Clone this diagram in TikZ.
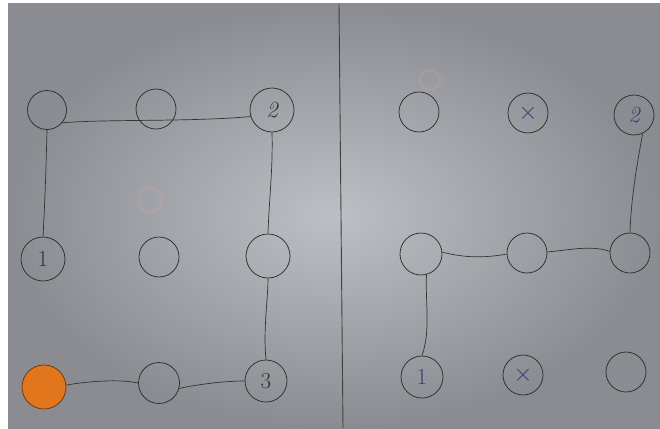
\documentclass[tikz,border=0pt]{standalone}
\usepackage{tikz}
\begin{document}
\begin{tikzpicture}[x=1pt,y=-1pt,
  pencil/.style={draw=black!82, line width=0.75pt},
  dot/.style={circle, pencil, inner sep=0pt, minimum size=40pt,
              font=\fontsize{23}{23}\selectfont, text=black!80},
  bluedot/.style={dot, text={rgb,255:red,60;green,62;blue,120}},
  firstdot/.style={dot, fill={rgb,255:red,226;green,118;blue,28},
                   draw={rgb,255:red,110;green,55;blue,18}},
  link/.style={draw=black!80, line width=0.7pt},
  smudge/.style={circle, draw={rgb,255:red,225;green,170;blue,160}, line width=3pt,
                 draw opacity=0.18, minimum size=24pt, inner sep=0pt}]
  % sheet and margins
  \useasboundingbox (0,0) rectangle (660,428);
  \fill[white] (0,0) rectangle (660,428);
  \shade[inner color={rgb,255:red,188;green,191;blue,195},
         outer color={rgb,255:red,138;green,140;blue,146}]
    (8,4) rectangle (660,428);
  % dividing line between the two grids
  \coordinate (topcut) at (339,4);
  \coordinate (botcut) at (343,428);
  \draw[black!75, line width=0.9pt] (topcut) -- (botcut);
  % faint erased marks
  \node[smudge] (erA) at (150,200) {};
  \node[smudge, minimum size=20pt] (erB) at (430,80) {};

  % left grid
  \node[dot, minimum size=39pt] (L11) at (47,110) {};
  \node[dot, minimum size=40pt] (L12) at (156,109) {};
  \node[dot, minimum size=44pt] (L13) at (272,110) {\itshape 2};
  \node[dot, minimum size=44pt] (L21) at (43,259) {1};
  \node[dot, minimum size=40pt] (L22) at (159,257) {};
  \node[dot, minimum size=44pt] (L23) at (268,256) {};
  \node[firstdot, minimum size=44pt] (L31) at (44,387) {};
  \node[dot, minimum size=41pt] (L32) at (159,383) {};
  \node[dot, minimum size=42pt] (L33) at (266,381) {3};

  \draw[link] (L11.south) .. controls (46,170) and (45,200) .. (L21.north);
  \draw[link] (L11.-40) .. controls (110,119) and (190,122) .. (L13.197);
  \draw[link] (L13.south) .. controls (273,170) and (269,200) .. (L23.north);
  \draw[link] (L23.south) .. controls (268,300) and (263,330) .. (L33.north);
  \draw[link] (L31.5) .. controls (90,381) and (120,379) .. (L32.180);
  \draw[link] (L32.-15) .. controls (200,384) and (225,381) .. (L33.180);

  % right grid
  \node[dot, minimum size=40pt] (R11) at (419,112) {};
  \node[bluedot, minimum size=40pt] (R12) at (528,113) {$\times$};
  \node[bluedot, minimum size=40pt] (R13) at (634,115) {\itshape 2};
  \node[dot, minimum size=42pt] (R21) at (421,254) {};
  \node[dot, minimum size=40pt] (R22) at (527,253) {};
  \node[dot, minimum size=40pt] (R23) at (630,253) {};
  \node[bluedot, minimum size=42pt] (R31) at (422,377) {1};
  \node[bluedot, minimum size=40pt] (R32) at (523,375) {$\times$};
  \node[dot, minimum size=40pt] (R33) at (626,372) {};

  \draw[link] (R13.-65) .. controls (636,170) and (631,200) .. (R23.north);
  \draw[link] (R21.5) .. controls (465,258) and (485,258) .. (R22.183);
  \draw[link] (R22.3) .. controls (570,250) and (590,245) .. (R23.175);
  \draw[link] (R21.-75) .. controls (425,300) and (431,330) .. (R31.north);
\end{tikzpicture}
\end{document}
